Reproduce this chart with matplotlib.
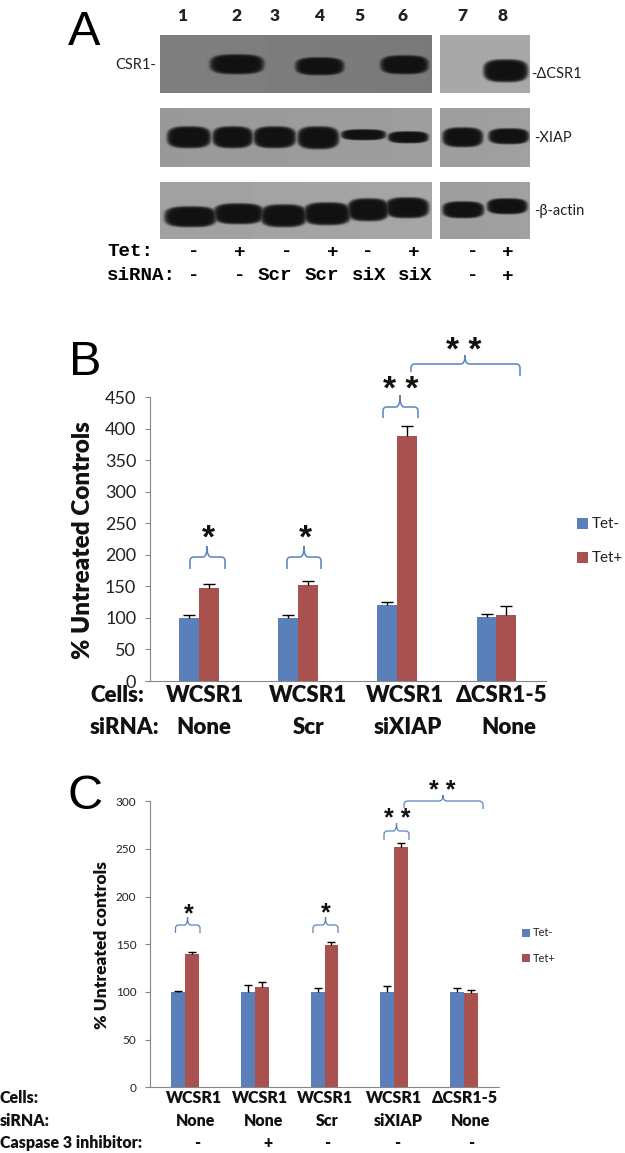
import numpy as np
import matplotlib
matplotlib.use('Agg')
import matplotlib.pyplot as plt
from matplotlib.path import Path
from matplotlib.patches import PathPatch, Rectangle

W, H = 625, 1153
plt.rcParams['font.family'] = ['Lato', 'DejaVu Sans']

# Panel B data
cats_b = ['WCSR1', 'WCSR1', 'WCSR1', 'ΔCSR1-5']
sirna_b = ['None', 'Scr', 'siXIAP', 'None']
tet_minus_b = [100, 100, 120, 101]
tet_plus_b = [147, 152, 388, 105]
err_minus_b = [5, 5, 5, 5]
err_plus_b = [6, 7, 16, 14]
ticks_b = [0, 50, 100, 150, 200, 250, 300, 350, 400, 450]

# Panel C data
cats_c = ['WCSR1', 'WCSR1', 'WCSR1', 'WCSR1', 'ΔCSR1-5']
sirna_c = ['None', 'None', 'Scr', 'siXIAP', 'None']
casp_c = ['-', '+', '-', '-', '-']
tet_minus_c = [100, 100, 100, 100, 100]
tet_plus_c = [140, 105, 149, 252, 98.5]
err_minus_c = [1, 7, 4, 6, 4]
err_plus_c = [2, 5, 3, 4, 4]
ticks_c = [0, 50, 100, 150, 200, 250, 300]

# Panel A labels
lanes = ['1', '2', '3', '4', '5', '6', '7', '8']
tet_a = ['-', '+', '-', '+', '-', '+', '-', '+']
sirna_a = ['-', '-', 'Scr', 'Scr', 'siX', 'siX', '-', '+']

# Blots: box (x0, x1, y0, y1), grey left, grey right, bands (x0, x1, y0, y1)
blots = [
    ((160, 432, 35, 93), 0.50, 0.48, [(210.5, 263, 55, 73), (296, 343, 58, 74), (381, 427.5, 56, 73)]),
    ((440, 530, 35, 93), 0.66, 0.66, [(484, 527, 60, 81)]),
    ((160, 432, 108, 167), 0.60, 0.62, [(167.6, 210, 127, 147), (213, 252, 127, 147), (254, 295, 127, 147),
                                        (298, 338, 127, 148), (341.6, 385, 130, 139), (388.5, 427.5, 132, 142)]),
    ((440, 530, 108, 167), 0.62, 0.63, [(443, 482, 128, 146), (489, 528, 129, 143)]),
    ((160, 432, 182, 239), 0.63, 0.65, [(165, 216, 207, 226), (214, 263, 204, 223), (261, 306, 205, 226),
                                        (304, 350, 203, 224), (348, 388, 199, 220), (386, 428, 198, 217)]),
    ((440, 530, 182, 239), 0.62, 0.63, [(443, 483, 202, 217), (487.5, 526.5, 199, 213)]),
]

BLUE = '#5b7fba'
RED = '#a8514f'
AXIS = '#868686'
BRACE = '#5b83bd'
HEAVY = 'heavy'


def pixel_axes(fig, x0, x1, ytop, ybottom):
    return fig.add_axes([x0 / W, 1 - ybottom / H, (x1 - x0) / W, (ybottom - ytop) / H])


def bar_panel(ax, minus, plus, err_m, err_p, ticks, ymax, size, cap):
    x = np.arange(len(minus))
    for off, vals, errs, col in [(-0.1, minus, err_m, BLUE), (0.1, plus, err_p, RED)]:
        vals = np.array(vals, dtype=float)
        errs = np.array(errs, dtype=float)
        ax.bar(x + off, vals, 0.2, color=col)
        # upper error only, with the cap at the top end
        ax.vlines(x + off, vals, vals + errs, color='black', lw=1)
        ax.plot(x + off, vals + errs, ls='none', marker='_', ms=cap, mew=1, color='black')
    ax.set_xlim(-0.5, len(minus) - 0.5)
    ax.set_ylim(0, ymax)
    ax.set_yticks(ticks)
    ax.set_xticks([])
    ax.tick_params(axis='y', length=3.6, width=0.8, color=AXIS, labelsize=size, pad=6, labelcolor='#222222')
    ax.spines['top'].set_visible(False)
    ax.spines['right'].set_visible(False)
    ax.spines['left'].set_color(AXIS)
    ax.spines['bottom'].set_color(AXIS)
    ax.patch.set_alpha(0)


def brace(ax, x0, x1, xm, top, bot_l, bot_r, tip, lw=1.1):
    r = min(4.0, (x1 - x0) / 8)
    verts = [(x0, bot_l), (x0, top + r), (x0, top), (x0 + r, top), (xm - r, top), (xm, top), (xm, tip),
             (xm, top), (xm + r, top), (x1 - r, top), (x1, top), (x1, top + r), (x1, bot_r)]
    codes = [Path.MOVETO, Path.LINETO, Path.CURVE3, Path.CURVE3, Path.LINETO, Path.CURVE3, Path.CURVE3,
             Path.CURVE3, Path.CURVE3, Path.LINETO, Path.CURVE3, Path.CURVE3, Path.LINETO]
    ax.add_patch(PathPatch(Path(verts, codes), fc='none', ec=BRACE, lw=lw))


def stars(ax, x, y, text, size):
    # the asterisk sits high in its glyph box, so anchor it on the baseline
    ax.text(x, y + size * 0.72, text, fontsize=size, ha='center', va='baseline',
            family='Liberation Sans', weight='bold', color='#111111')


fig = plt.figure(figsize=(W / 100, H / 100), dpi=100, facecolor='white')

# Bar charts
ax_b = pixel_axes(fig, 149.5, 546, 397, 681)
bar_panel(ax_b, tet_minus_b, tet_plus_b, err_minus_b, err_plus_b, ticks_b, 450, 13, 8)
ax_c = pixel_axes(fig, 149.6, 499.4, 801.3, 1087.3)
bar_panel(ax_c, tet_minus_c, tet_plus_c, err_minus_c, err_plus_c, ticks_c, 300, 8.5, 6)

# Overlay in image pixels for blots and annotations
ov = fig.add_axes([0, 0, 1, 1])
ov.patch.set_alpha(0)
ov.axis('off')

for (x0, x1, y0, y1), g0, g1, bands in blots:
    xs = np.arange(x0, x1, 0.5)
    ys = np.arange(y0, y1, 0.5)
    xx, yy = np.meshgrid(xs, ys)
    img = g0 + (g1 - g0) * (xx - x0) / (x1 - x0)
    mask = np.zeros_like(img)
    for bx0, bx1, by0, by1 in bands:
        cx, cy = (bx0 + bx1) / 2, (by0 + by1) / 2
        a, b = (bx1 - bx0) / 2 + 1, (by1 - by0) / 2 + 1
        r = (np.abs((xx - cx) / a) ** 3 + np.abs((yy - cy) / b) ** 3) ** (1 / 3)
        mask = np.maximum(mask, np.exp(-r ** 14))
    img = img * (1 - mask) + 0.07 * mask
    ov.imshow(img, extent=(x0, x1, y1, y0), cmap='gray', vmin=0, vmax=1, aspect='auto', interpolation='bilinear')

ov.set_xlim(0, W)
ov.set_ylim(H, 0)

# Panel letters
for letter, lx, ly in [('A', 68, 45), ('B', 69, 375), ('C', 68, 809)]:
    ov.text(lx, ly, letter, fontsize=35, family='Liberation Sans', va='baseline', ha='left', color='black')

# Panel A text
for label, x in zip(lanes, [182, 236, 275, 319, 359, 403, 462, 502]):
    ov.text(x, 16, label, fontsize=12.5, weight=HEAVY, ha='center', va='center', color='#222222')
ov.text(156, 65, 'CSR1-', fontsize=10.5, ha='right', va='center', color='#222222')
ov.text(531, 74, '-ΔCSR1', fontsize=10.5, ha='left', va='center', color='#222222')
ov.text(534, 138, '-XIAP', fontsize=10.5, ha='left', va='center', color='#222222')
ov.text(534, 211, '-β-actin', fontsize=10.5, ha='left', va='center', color='#222222')

MONO = 'Liberation Mono'
ov.text(107, 252, 'Tet:', fontsize=13.8, family=MONO, weight='bold', ha='left', va='center')
ov.text(107, 276, 'siRNA:', fontsize=13.8, family=MONO, weight='bold', ha='left', va='center')
for label, x in zip(tet_a, [194, 240, 287, 333, 368, 414, 473, 508]):
    ov.text(x, 252, label, fontsize=13.8, family=MONO, weight='bold', ha='center', va='center')
for label, x in zip(sirna_a, [194, 240, 275, 322, 369, 415, 473, 508]):
    ov.text(x, 276, label, fontsize=13.8, family=MONO, weight='bold', ha='center', va='center')

# Panel B text
ov.text(83, 540, '% Untreated Controls', fontsize=17.5, weight=HEAVY, rotation=90, ha='center', va='center', color='#111111')
ov.text(90, 695, 'Cells:', fontsize=16, weight=HEAVY, ha='left', va='center', color='#111111')
ov.text(90, 727, 'siRNA:', fontsize=16, weight=HEAVY, ha='left', va='center', color='#111111')
for label, x in zip(cats_b, [205, 308, 405, 502]):
    ov.text(x, 695, label, fontsize=16, weight=HEAVY, ha='center', va='center', color='#111111')
for label, x in zip(sirna_b, [204, 309, 408, 509]):
    ov.text(x, 727, label, fontsize=16, weight=HEAVY, ha='center', va='center', color='#111111')
ov.add_patch(Rectangle((577, 518), 11, 11, fc=BLUE, ec='none'))
ov.add_patch(Rectangle((577, 552), 11, 11, fc=RED, ec='none'))
ov.text(592, 524, 'Tet-', fontsize=11, ha='left', va='center', color='#222222')
ov.text(592, 558, 'Tet+', fontsize=11, ha='left', va='center', color='#222222')

brace(ov, 190, 225, 207, 557, 569, 569, 546)
brace(ov, 287, 321, 304, 557, 569, 569, 546)
brace(ov, 383, 418, 400, 407, 418, 418, 395)
brace(ov, 411, 520, 465, 364, 372, 376, 355)
stars(ov, 208, 530, '*', 24)
stars(ov, 305, 530, '*', 24)
stars(ov, 401, 382, '* *', 24)
stars(ov, 464, 343, '* *', 24)

# Panel C text
ov.text(102, 945, '% Untreated controls', fontsize=12.5, weight=HEAVY, rotation=90, ha='center', va='center', color='#111111')
rows_c = [1098, 1121, 1143]
for label, y in zip(['Cells:', 'siRNA:', 'Caspase 3 inhibitor:'], rows_c):
    ov.text(0, y, label, fontsize=11.5, weight=HEAVY, ha='left', va='center', color='#111111')
for label, x in zip(cats_c, [194, 260, 325, 394, 465]):
    ov.text(x, rows_c[0], label, fontsize=11.5, weight=HEAVY, ha='center', va='center', color='#111111')
for label, x in zip(sirna_c, [196, 264, 327, 398, 471]):
    ov.text(x, rows_c[1], label, fontsize=11.5, weight=HEAVY, ha='center', va='center', color='#111111')
for label, x in zip(casp_c, [197, 268, 327, 397, 471]):
    ov.text(x, rows_c[2], label, fontsize=11.5, weight=HEAVY, ha='center', va='center', color='#111111')
ov.add_patch(Rectangle((522, 929), 7.5, 8, fc=BLUE, ec='none'))
ov.add_patch(Rectangle((522, 954), 7.5, 8, fc=RED, ec='none'))
ov.text(533, 933, 'Tet-', fontsize=8, ha='left', va='center', color='#222222')
ov.text(533, 958, 'Tet+', fontsize=8, ha='left', va='center', color='#222222')

brace(ov, 175.5, 200, 187.5, 925, 933, 933, 917, 0.9)
brace(ov, 313, 338, 325.5, 925, 933, 933, 917, 0.9)
brace(ov, 384, 409, 396.5, 831, 840, 840, 823, 0.9)
brace(ov, 404, 483, 443, 801, 808, 809, 795, 0.9)
stars(ov, 189, 908, '*', 18)
stars(ov, 326, 907, '*', 18)
stars(ov, 397, 813, '* *', 18)
stars(ov, 442, 785, '* *', 18)

fig.savefig('out.png', dpi=100)
